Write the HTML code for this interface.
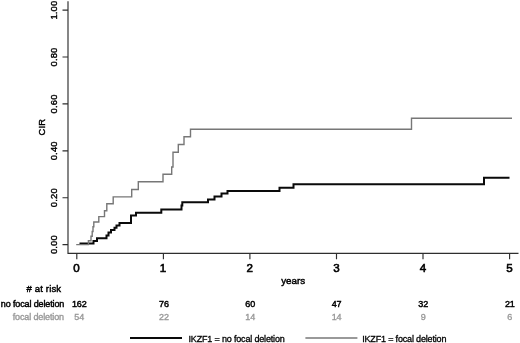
<!DOCTYPE html>
<html><head><meta charset="utf-8">
<style>
html,body{margin:0;padding:0;background:#fff;}
svg{display:block;}
text{font-family:"Liberation Sans",sans-serif;fill:#000;stroke:#000;stroke-width:0.45px;}
.g text,text.g{fill:#989898;stroke:#989898;stroke-width:0.35px;}
.y text{letter-spacing:0.2px;stroke-width:0.4px;}
text.l{letter-spacing:-0.17px !important;stroke-width:0.3px;}
.x text{stroke-width:0.6px;}
.s text,text.s{letter-spacing:-0.13px;}
</style></head>
<body>
<svg width="520" height="343" viewBox="0 0 520 343">
<rect width="520" height="343" fill="#fff"/>
<!-- axes -->
<g stroke="#2e2e2e" stroke-width="1.15" fill="none">
<path d="M68 1.2V253.4H518.5"/>
<path d="M62.5 10.1H68M62.5 57H68M62.5 103.9H68M62.5 150.8H68M62.5 197.7H68M62.5 244.6H68"/>
<path d="M76.8 253.4V259.3M163.4 253.4V259.3M249.9 253.4V259.3M336.5 253.4V259.3M423 253.4V259.3M509.6 253.4V259.3"/>
</g>
<!-- y labels -->
<g font-size="9.4" text-anchor="middle" class="y">
<text transform="translate(57.1 10.1) rotate(-90)">1.00</text>
<text transform="translate(57.1 57) rotate(-90)">0.80</text>
<text transform="translate(57.1 103.9) rotate(-90)">0.60</text>
<text transform="translate(57.1 150.8) rotate(-90)">0.40</text>
<text transform="translate(57.1 197.7) rotate(-90)">0.20</text>
<text transform="translate(57.1 244.6) rotate(-90)">0.00</text>
<text transform="translate(44.9 127.2) rotate(-90)">CIR</text>
</g>
<!-- x labels -->
<g font-size="11.6" text-anchor="middle" class="x">
<text x="76.6" y="271.7">0</text>
<text x="163" y="271.7">1</text>
<text x="249.8" y="271.7">2</text>
<text x="336.4" y="271.7">3</text>
<text x="423" y="271.7">4</text>
<text x="509.6" y="271.7">5</text>
</g>
<text x="293.2" y="283.8" font-size="9.8" text-anchor="middle">years</text>
<!-- black curve -->
<path fill="none" stroke="#0a0a0a" stroke-width="2" d="M79.5 243.5H93.5V241H97V238.3H106.5V235.5H108.5V232.5H111V230H114.5V227.7H116.5V225.5H119.5V223.1H131V215.5H136V212.8H161.3V209.5H181.5V205.5H182.3V202.3H208V199.5H214.5V196.5H221.5V193.5H227.5V190.9H279.5V187.8H293.5V184.3H484V177.8H509.5"/>
<!-- gray curve -->
<path fill="none" stroke="#777" stroke-width="1.4" d="M76.2 244.6H88.4V240.8H91V236.2H92.2V231.5H93V226.8H93.8V222H98.8V216.6H104.5V210.8H106.8V203.8H113.2V196.9H131.7V189.5H138.3V181.8H163V174.3H171.7V167H173V152.3H178.3V144.5H184V136.8H190.5V129.2H411.5V118.2H512"/>
<!-- risk table -->
<g font-size="9" class="s">
<text x="61.2" y="292.1" font-size="9.5" text-anchor="end" style="letter-spacing:0.15px"># at risk</text>
<text x="64.2" y="307.2" text-anchor="end">no focal deletion</text>
<text x="63.9" y="319.6" text-anchor="end" class="g">focal deletion</text>
<g text-anchor="middle">
<text x="79.2" y="307.2">162</text><text x="164" y="307.2">76</text><text x="250.2" y="307.2">60</text><text x="336.6" y="307.2">47</text><text x="423.2" y="307.2">32</text><text x="509.8" y="307.2">21</text>
</g>
<g text-anchor="middle" class="g">
<text x="79.2" y="319.6">54</text><text x="164" y="319.6">22</text><text x="250.2" y="319.6">14</text><text x="336.6" y="319.6">14</text><text x="423.2" y="319.6">9</text><text x="509.8" y="319.6">6</text>
</g>
</g>
<!-- legend -->
<path d="M130 338H182" stroke="#0a0a0a" stroke-width="2"/>
<text x="188.5" y="341.5" font-size="9" class="s l">IKZF1 = no focal deletion</text>
<path d="M305.4 338H357.4" stroke="#777" stroke-width="1.4"/>
<text x="362.2" y="341.5" font-size="9" class="s l">IKZF1 = focal deletion</text>
</svg>
</body></html>
